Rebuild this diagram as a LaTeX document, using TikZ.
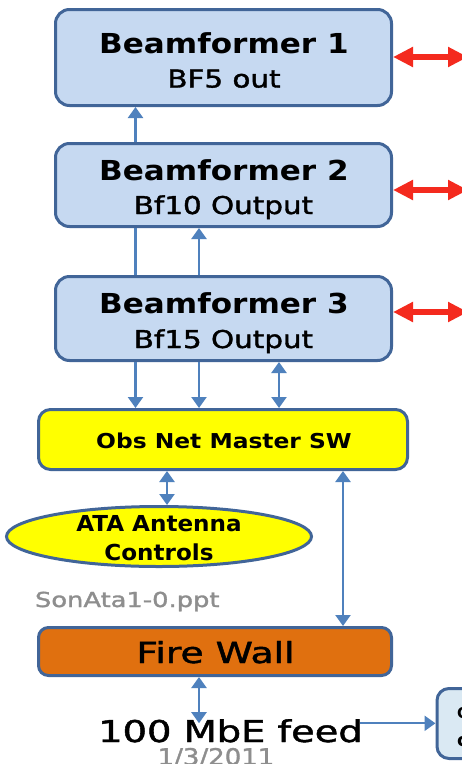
\documentclass[tikz,border=0pt]{standalone}
\usepackage{fontspec}
\usepackage{graphicx}
\setmainfont{DejaVu Sans}
% slightly heavier regular weight for the plain labels
\newfontfamily\medfont{DejaVu Sans}[FakeBold=1.4]
\usetikzlibrary{arrows.meta,shapes.geometric}

\definecolor{bffill}{HTML}{C6D9F1}
\definecolor{edge}{HTML}{416598}
\definecolor{link}{HTML}{4F81BD}
\definecolor{swfill}{HTML}{FFFF00}
\definecolor{fwfill}{HTML}{E0700F}
\definecolor{netred}{HTML}{F42A1E}
\definecolor{note}{HTML}{8E8E8E}
\definecolor{extfill}{HTML}{DAE9F3}

% horizontally widened text
\newcommand{\hs}[2]{\scalebox{#1}[1]{#2}}

\begin{document}
\begin{tikzpicture}[x=1pt,y=-1pt,
  box/.style={draw=edge, line width=3pt, rounded corners=14pt, inner sep=0pt},
  bfbox/.style={box, fill=bffill, minimum width=336pt},
  lbl/.style={inner sep=0pt, outer sep=0pt, anchor=base},
  ttl/.style={lbl, font=\bfseries\fontsize{27.5}{30}\selectfont},
  sub/.style={lbl, font=\medfont\fontsize{24.5}{27}\selectfont},
  tipb/.tip={Triangle[length=11pt,width=15pt]},
  arr/.style={draw=link, line width=2.2pt, -tipb},
  dbl/.style={draw=link, line width=2.2pt, tipb-tipb},
  plain/.style={draw=link, line width=2.2pt},
  tipr/.tip={Triangle[length=20pt,width=19pt]},
  redarr/.style={draw=netred, line width=5.5pt, tipr-tipr}
]
\clip (0,0) rectangle (462,764);
\fill[white] (0,0) rectangle (462,764);

% beamformer boxes
\node[bfbox, minimum height=96pt] (bf1) at (223.5,57.5) {};
\node[bfbox, minimum height=83pt] (bf2) at (223.5,185) {};
\node[bfbox, minimum height=84pt] (bf3) at (223.5,318.5) {};

% switch, antenna controls, firewall, external box
\node[box, fill=swfill, rounded corners=12pt, minimum width=369pt, minimum height=60pt] (sw) at (223,439.5) {};
\node[draw=edge, line width=3pt, fill=swfill, ellipse, minimum width=305pt, minimum height=60pt, inner sep=0pt] (ata) at (159,536.5) {};
\node[box, fill=fwfill, rounded corners=10pt, minimum width=353pt, minimum height=48pt] (fw) at (215,651.5) {};
\node[box, fill=extfill, rounded corners=12pt, minimum width=82pt, minimum height=70pt] (ext) at (478,723.5) {};

% labels
\node[ttl] (bf1a) at (224,53) {\hs{1.13}{Beamformer 1}};
\node[sub] (bf1b) at (224,87.5) {\hs{1.2}{BF5 out}};
\node[ttl] (bf2a) at (224,180) {\hs{1.13}{Beamformer 2}};
\node[sub] (bf2b) at (223.5,214) {\hs{1.2}{Bf10 Output}};
\node[ttl] (bf3a) at (224,313) {\hs{1.13}{Beamformer 3}};
\node[sub] (bf3b) at (223.5,348) {\hs{1.2}{Bf15 Output}};
\node[lbl, font=\bfseries\fontsize{20.5}{24}\selectfont] (swt) at (224,448) {\hs{1.14}{Obs Net Master SW}};
\node[lbl, font=\bfseries\fontsize{22}{26}\selectfont] (ata1) at (159,531) {\hs{1.05}{ATA Antenna}};
\node[lbl, font=\bfseries\fontsize{22}{26}\selectfont] (ata2) at (159,560) {\hs{1.05}{Controls}};
\node[lbl, anchor=base west, text=note, font=\medfont\fontsize{20.6}{24}\selectfont] (src) at (35,607) {\hs{1.25}{SonAta1-0.ppt}};
\node[lbl, font=\medfont\fontsize{29}{32}\selectfont] (fwt) at (215.5,663) {\hs{1.3}{Fire Wall}};
\node[lbl, font=\medfont\fontsize{30}{34}\selectfont] (feed) at (230.5,742) {\hs{1.28}{100 MbE feed}};
\node[lbl, text=note, font=\medfont\fontsize{23}{26}\selectfont] (date) at (216,765) {\hs{1.13}{1/3/2011}};
\node[lbl, anchor=base west, font=\bfseries\fontsize{15}{18}\selectfont] (ext1) at (457,718) {C};
\node[lbl, anchor=base west, font=\bfseries\fontsize{18}{20}\selectfont] (ext2) at (457,746) {c};

% connector columns
\coordinate (xa) at (135.5,0);
\coordinate (xb) at (199,0);
\coordinate (xc) at (279,0);
\coordinate (xd) at (167,0);
\coordinate (xe) at (343,0);

\draw[arr] (bf2.north -| xa) -- (bf1.south -| xa);
\draw[plain] (bf3.north -| xa) -- (bf2.south -| xa);
\draw[arr] (bf3.north -| xb) -- (bf2.south -| xb);
\draw[arr] (bf3.south -| xa) -- (sw.north -| xa);
\draw[arr] (bf3.south -| xb) -- (sw.north -| xb);
\draw[dbl] (bf3.south -| xc) -- (sw.north -| xc);
\draw[dbl] (sw.south -| xd) -- (ata.north -| xd);
\draw[dbl] (sw.south -| xe) -- (fw.north -| xe);

\coordinate (feedtop) at ([yshift=-4pt]feed.north);
\draw[dbl] (fw.south -| xb) -- (feedtop -| xb);
\coordinate (feedout) at ([xshift=-3pt,yshift=7.5pt]feed.east);
\draw[arr] (feedout) -- (feedout -| ext.west);

% outgoing links on the right
\coordinate (r1) at (0,57);
\coordinate (r2) at (0,190);
\coordinate (r3) at (0,312);
\draw[redarr] (bf1.east |- r1) -- ++(75,0);
\draw[redarr] (bf2.east |- r2) -- ++(75,0);
\draw[redarr] (bf3.east |- r3) -- ++(75,0);
\end{tikzpicture}
\end{document}
